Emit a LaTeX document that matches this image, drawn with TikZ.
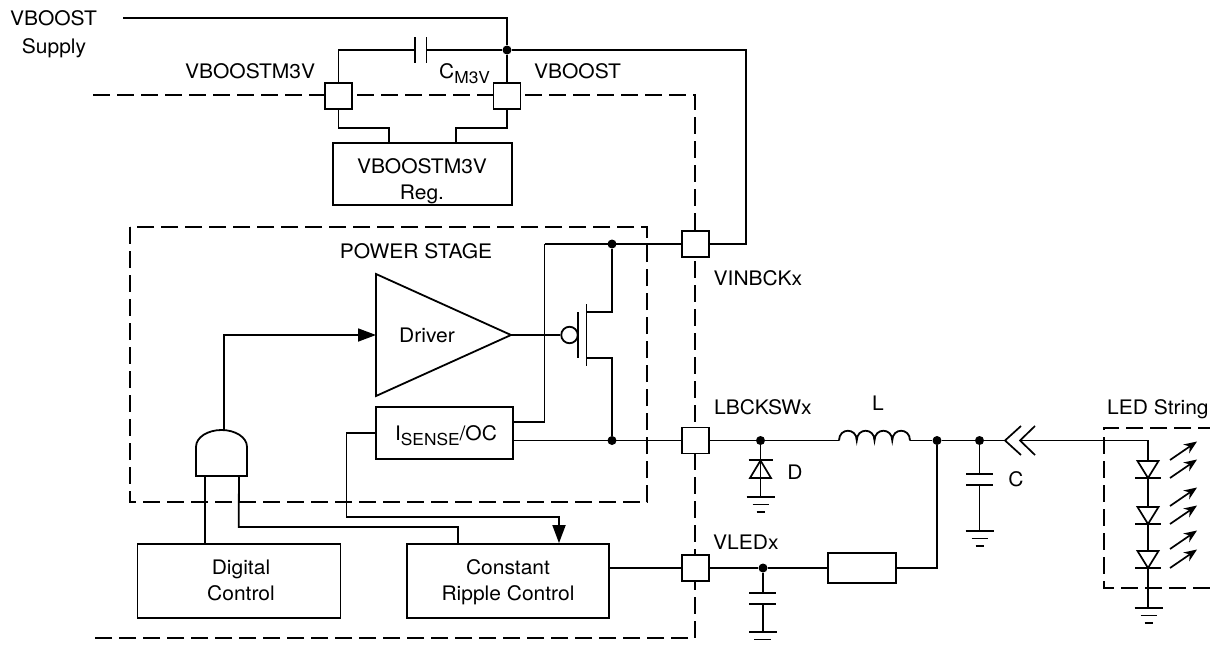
\documentclass[tikz,border=0pt]{standalone}
\usepackage{fontspec}
\setmainfont[FakeStretch=1.05]{TeX Gyre Heros}
\usetikzlibrary{arrows.meta,calc}
\newcommand{\subs}[1]{\raisebox{-5pt}{\fontsize{16.5}{18}\selectfont #1}}
\tikzset{
  wire/.style={line width=1.8pt,line join=miter},
  dashline/.style={line width=1.7pt,dash pattern=on 17pt off 7pt},
  padbox/.style={draw,fill=white,line width=1.8pt,rectangle,minimum width=27pt,minimum height=26pt,inner sep=0pt},
  blockbox/.style={draw,fill=white,line width=1.8pt,rectangle,inner sep=0pt,align=center},
  dotnode/.style={circle,fill=black,inner sep=0pt,minimum size=9pt},
  lbl/.style={inner sep=0pt,anchor=base west},
  lblc/.style={inner sep=0pt,anchor=base},
  bubble/.style={circle,draw,fill=white,line width=1.8pt,inner sep=0pt,minimum size=16.5pt},
  arrowwire/.style={wire,-{Triangle[length=18pt,width=13pt]}},
  lightray/.style={line width=1.7pt,-{Stealth[length=13pt,width=10.5pt]}},
  plate/.style={line width=1.9pt},
}
\newcommand{\gndsym}[2]{%
  \draw[plate] ($(#1)+(-14,0)$) -- ($(#1)+(14,0)$);
  \draw[plate] ($(#1)+(-8,7.5)$) -- ($(#1)+(8,7.5)$);
  \draw[plate] ($(#1)+(-4,15)$) -- ($(#1)+(4,15)$);
}
\begin{document}
\begin{tikzpicture}[x=1pt,y=-1pt,font=\fontsize{20}{22}\selectfont]
\path[fill=white] (0,0) rectangle (1210,645);
\clip (0,0) rectangle (1210,645);

% dashed outlines
\coordinate (icTL) at (93,95);
\coordinate (icBL) at (93,638);
\coordinate (icTR) at (695,95);
\coordinate (icBR) at (695,638);
\draw[dashline] (icTL) -- (icTR) -- (icBR) -- (icBL);
\draw[dashline] (130,227) rectangle (647,502);
\draw[dashline] (1215,428) -- (1104,428) -- (1104,588) -- (1215,588);

% pads
\node[padbox] (padM3V) at (338.5,96) {};
\node[padbox] (padVB) at (507,96) {};
\node[padbox] (padVIN) at (695.5,244) {};
\node[padbox] (padSW) at (695.5,440.5) {};
\node[padbox] (padLED) at (695.5,568) {};

% blocks
\node[blockbox,minimum width=179pt,minimum height=62pt] (reg) at (422.5,174) {};
\node[blockbox,minimum width=137pt,minimum height=52pt] (sense) at (444.5,433) {};
\node[blockbox,minimum width=203pt,minimum height=74pt] (digi) at (239,581) {};
\node[blockbox,minimum width=202pt,minimum height=74pt] (crc) at (508,581) {};
\node[blockbox,minimum width=68pt,minimum height=30pt] (res) at (862,568) {};

% junctions
\coordinate (vbsrc) at (123,18);
\coordinate (vbcorner) at (507,18);
\node[dotnode] (jVB) at (507,50) {};
\node[dotnode] (jVIN) at (612,244) {};
\node[dotnode] (jSW) at (612,440.5) {};
\node[dotnode] (jD) at (760.5,440.5) {};
\node[dotnode] (jL) at (937,440.5) {};
\node[dotnode] (jC) at (979.5,440.5) {};
\node[dotnode] (jV) at (763,568) {};

% VBOOST supply and CM3V
\draw[wire] (vbsrc) -- (vbcorner) -- (jVB);
\draw[wire] (jVB) -- (padVB.north);
\draw[wire] (jVB) -- (746,50) -- (746,244) -- (padVIN.east);
\coordinate (cp1) at (415,50);
\coordinate (cp2) at (426.5,50);
\draw[wire] (jVB) -- (cp2);
\draw[wire] (cp1) -- (338.5,50) -- (padM3V.north);
\draw[plate] (415,37) -- (415,63);
\draw[plate] (426.5,37) -- (426.5,63);
\draw[wire] (padM3V.south) -- (338.5,128) -- (389,128) -- (389,143);
\draw[wire] (padVB.south) -- (507,128) -- (456,128) -- (456,143);

% Driver
\coordinate (drvIn) at (376,335);
\coordinate (drvOut) at (511,335);
\draw[wire,line join=miter] (376,274) -- (drvOut) -- (376,396) -- cycle;
\node[lblc] (drvText) at (427,342) {Driver};

% P-MOS
\node[bubble] (gate) at (569.5,335) {};
\draw[wire] (drvOut) -- (gate.west);
\draw[line width=1.5pt] (578,312) -- (578,358);
\draw[line width=1.5pt] (586.5,304) -- (586.5,366);
\draw[wire] (586.5,312) -- (612,312) -- (jVIN);
\draw[wire] (586.5,358) -- (612,358) -- (jSW);
\draw[wire] (544.5,244) -- (padVIN.west);
\draw[wire] (sense.east |- 0,422) -- (544.5,422) -- (544.5,244);
\draw[wire] (sense.east |- jSW) -- (padSW.west);

% AND gate
\coordinate (andOut) at (224,430);
\coordinate (andA) at (205,476);
\coordinate (andB) at (239,476);
\draw[wire,fill=white] (196,476) -- (196,447) .. controls (196,437) and (208,430) .. (221.5,430) .. controls (235,430) and (247,437) .. (247,447) -- (247,476) -- cycle;
\draw[arrowwire] (andOut) -- (224,335) -- (drvIn);
\draw[wire] (andA) -- (digi.north -| andA);
\draw[wire] (andB) -- (238.7,527) -- (458,527) -- (crc.north -| 458,0);

% Isense feedback
\draw[arrowwire] (sense.west) -- (346.5,433) -- (346.5,517) -- (559,517) -- (crc.north -| 559,0);

% Constant ripple to pad
\draw[wire] (crc.east |- padLED) -- (padLED.west);

% Switch node, L, D
\draw[wire] (padSW.east) -- (jD);
\coordinate (indA) at (839,440.5);
\coordinate (indB) at (910,440.5);
\draw[wire] (jD) -- (indA);
\draw[wire] (indA) .. controls +(0,-13) and +(0,-13) .. ++(17.75,0)
   .. controls +(0,-13) and +(0,-13) .. ++(17.75,0)
   .. controls +(0,-13) and +(0,-13) .. ++(17.75,0)
   .. controls +(0,-13) and +(0,-13) .. ++(17.75,0);
\draw[wire] (indB) -- (jL);
\draw[wire] (jL) -- (jC);
\draw[wire] (jC) -- (1005,440.5);

% Freewheel diode
\draw[wire] (jD) -- (760.5,497);
\draw[plate] (748.5,460) -- (773,460);
\draw[line width=1.7pt] (760.5,460.5) -- (750,478) -- (771,478) -- cycle;
\gndsym{760.5,497}{}

% Output cap C
\draw[wire] (jC) -- (979.5,474);
\draw[wire] (979.5,485) -- (979.5,531);
\draw[plate] (966,474) -- (993,474);
\draw[plate] (966,485) -- (993,485);
\gndsym{979.5,531}{}

% connector
\draw[line width=1.7pt] (1021,426) -- (1005,440.5) -- (1021,455);
\draw[line width=1.7pt] (1035,426) -- (1020,440.5) -- (1035,455);
\coordinate (ledTop) at (1148,440.5);
\draw[wire] (1020,440.5) -- (ledTop) -- (1148,608);

% VLED branch
\draw[wire] (padLED.east) -- (jV) -- (res.west);
\draw[wire] (res.east) -- (jL |- res) -- (jL);
\draw[wire] (jV) -- (763,593);
\draw[wire] (763,604) -- (763,632);
\draw[plate] (749,593) -- (776,593);
\draw[plate] (749,604) -- (776,604);
\draw[plate] (749,632) -- (777,632);
\draw[plate] (754,639.5) -- (771,639.5);

% LEDs
\foreach \yy in {461,507,551}{
  \draw[line width=1.7pt,fill=white] (1137.5,\yy) -- (1158.5,\yy) -- (1148,\yy+17) -- cycle;
  \draw[plate] (1135,\yy+17) -- (1161,\yy+17);
}
\gndsym{1148.5,608}{}
\foreach \yy in {460,478,506,524,549,568}{
  \draw[lightray] (1170,\yy) -- (1197,\yy-18.5);
}

% labels
\node[lblc] (tVBs) at (53.5,25.5) {VBOOST};
\node[lblc] (tSup) at (54,53.5) {Supply};
\node[lbl] (tM3V) at (185,78.5) {VBOOSTM3V};
\node[lbl] (tCM) at (439,78.5) {C\subs{M3V}};
\node[lbl] (tVB) at (534,78.5) {VBOOST};
\node[lblc] (tReg1) at (422,173.5) {VBOOSTM3V};
\node[lblc] (tReg2) at (422,199.5) {Reg.};
\node[lblc] (tPS) at (416,258.5) {POWER STAGE};
\node[lbl] (tVIN) at (713.5,285.5) {VINBCKx};
\node[lbl] (tSW) at (714,414.5) {LBCKSWx};
\node[lblc] (tL) at (878,410.5) {L};
\node[lblc] (tD) at (795,479.5) {D};
\node[lblc] (tC) at (1016,486.5) {C};
\node[lbl] (tLS) at (1107,414.5) {LED String};
\node[lbl] (tVL) at (713,549.5) {VLEDx};
\node[lblc] (tSense) at (446,440) {I\subs{SENSE}/OC};
\node[lblc] (tD1) at (241,574.5) {Digital};
\node[lblc] (tD2) at (241,600.5) {Control};
\node[lblc] (tC1) at (508,574.5) {Constant};
\node[lblc] (tC2) at (508,600.5) {Ripple Control};
\end{tikzpicture}
\end{document}
